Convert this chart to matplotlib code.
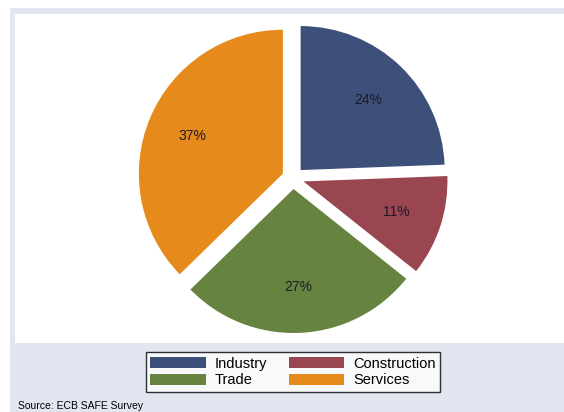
import matplotlib.pyplot as plt
from matplotlib.patches import Rectangle, Patch

# data
sectors = ["Industry", "Construction", "Trade", "Services"]
shares = [24.4, 11.3, 27.0, 37.3]
colors = ["#3d5079", "#9a4650", "#66843f", "#e68a1c"]

plt.rcParams['font.family'] = ['Liberation Sans', 'DejaVu Sans']

W, H = 564, 412
fig = plt.figure(figsize=(W / 100, H / 100), dpi=100)
ax = fig.add_axes([0, 0, 1, 1])
ax.set_xlim(0, W)
ax.set_ylim(0, H)
ax.set_aspect('equal')
ax.axis('off')

# panel background + white plot region (pixel coords, y flipped)
ax.add_patch(Rectangle((10, 0), W - 10, H - 8, facecolor="#e1e6f0", edgecolor="none", zorder=0))
ax.add_patch(Rectangle((15, H - 343), W - 15, 343 - 14, facecolor="white", edgecolor="none", zorder=0))

wedges, texts, autotexts = ax.pie(
    shares, colors=colors, startangle=90, counterclock=False,
    explode=[11] * len(shares), center=(293, H - 178), radius=144,
    autopct='%1.0f%%', pctdistance=0.68, frame=True,
    textprops=dict(fontsize=10, color="#1a1a2a"),
    wedgeprops=dict(linewidth=0))
ax.set_xlim(0, W)
ax.set_ylim(0, H)
ax.axis('off')

handles = [Patch(facecolor=c, edgecolor="none") for c in colors]
# order so row1 = Industry, Construction ; row2 = Trade, Services
order = [0, 2, 1, 3]
leg = fig.legend([handles[i] for i in order], [sectors[i] for i in order],
                 ncol=2, loc="center", bbox_to_anchor=(293 / W, 1 - 372 / H),
                 fontsize=10.5, frameon=True, fancybox=False, edgecolor="black",
                 handlelength=3.8, handleheight=0.85, columnspacing=1.5,
                 labelspacing=0.2, borderpad=0.3, handletextpad=0.6,
                 borderaxespad=0)
leg.get_frame().set_linewidth(1.0)

fig.text(18 / W, 1 - 406 / H, "Source: ECB SAFE Survey", fontsize=7.5, va="center", ha="left")

fig.savefig("out.png", dpi=100, facecolor="white")
